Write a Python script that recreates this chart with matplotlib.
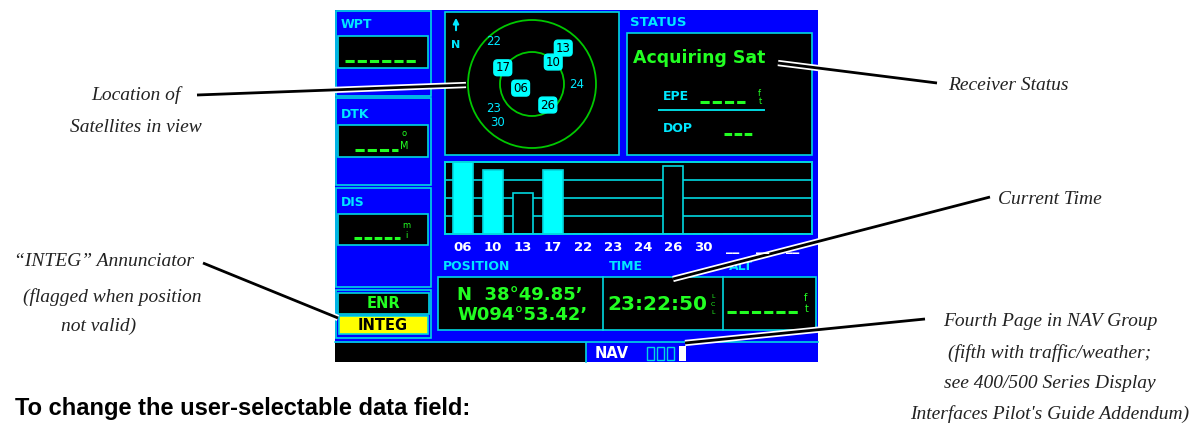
"""GPS satellite status page with callouts, redrawn with matplotlib."""

import numpy as np
import matplotlib
matplotlib.use("Agg")
import matplotlib.pyplot as plt
from matplotlib.patches import Rectangle, Circle
import matplotlib.patheffects as pe

# Satellites in view: id, azimuth (deg), elevation (deg), boxed on sky plot
sat_ids = ["22", "13", "10", "17", "06", "24", "23", "30", "26"]
sat_azimuth = [318, 41, 44, 299, 250, 91, 238, 222, 143]
sat_elevation = [10, 23, 47, 43, 73, 27, 26, 18, 53]
sat_boxed = [False, True, True, True, True, False, False, False, True]

# Signal strength bars
bar_labels = ["06", "10", "13", "17", "22", "23", "24", "26", "30", "__", "__", "__"]
bar_strength = [1.0, 0.89, 0.57, 0.89, 0, 0, 0, 0.94, 0, 0, 0, 0]
bar_filled = [True, True, False, True, False, False, False, False, False, False, False, False]

position_lines = ["N  38°49.85’", "W094°53.42’"]
time_text = "23:22:50"
status_text = "Acquiring Sat"

BLUE = "#0000FF"
CYAN = "#00D8E0"
CYAN_TXT = "#00E8FF"
GREEN = "#22FF22"
GRID_GREEN = "#00C800"
W, H = 1191, 429

fig = plt.figure(figsize=(W / 100, H / 100), dpi=100)
ax = fig.add_axes([0, 0, 1, 1])
ax.set_xlim(0, W)
ax.set_ylim(H, 0)
ax.axis("off")


def rect(x0, y0, x1, y1, fc, ec="none", lw=1.2, z=1):
    ax.add_patch(Rectangle((x0, y0), x1 - x0, y1 - y0, facecolor=fc,
                           edgecolor=ec, linewidth=lw, zorder=z))


def label(x, y, s, color=CYAN_TXT, size=9, weight="bold", ha="left", **kw):
    ax.text(x, y, s, color=color, fontsize=size, fontweight=weight, ha=ha,
            va="center", family="DejaVu Sans", zorder=5, **kw)


def dashes(x0, x1, y, n=(3, 1)):
    ax.plot([x0, x1], [y, y], color=GREEN, lw=2.2, linestyle=(0, n),
            solid_capstyle="butt", zorder=5)


# screen background
rect(335, 10, 818, 362, BLUE)

# left column
rect(336, 11, 431, 96, BLUE, CYAN)
rect(336, 98, 431, 185, BLUE, CYAN)
rect(336, 188, 431, 287, BLUE, CYAN)
rect(336, 290, 431, 338, BLUE, CYAN)
label(341, 25, "WPT")
rect(338, 36, 428, 68, "black", CYAN)
dashes(345, 418, 61)
label(341, 115, "DTK")
rect(338, 125, 428, 157, "black", CYAN)
dashes(355, 398, 150)
label(404, 133, "o", color=GREEN, size=6, weight="normal", ha="center")
label(404, 146, "M", color=GREEN, size=7, weight="normal", ha="center")
label(341, 203, "DIS")
rect(338, 214, 428, 245, "black", CYAN)
dashes(354, 400, 238, n=(2.5, 0.8))
label(406, 226, "m", color=GREEN, size=6, weight="normal", ha="center")
label(406, 236, "i", color=GREEN, size=6, weight="normal", ha="center")
rect(338, 293, 429, 314, "black", CYAN)
label(383, 304, "ENR", color=GREEN, size=10.5, ha="center")
rect(339, 316, 428, 334, "#FFFF00", CYAN)
label(383, 326, "INTEG", color="black", size=10.5, ha="center")

# sky plot
rect(445, 12, 619, 155, "black", CYAN)
cx, cy, r_out = 532, 84, 64
ax.add_patch(Circle((cx, cy), r_out, fill=False, ec=GRID_GREEN, lw=1.3, zorder=2))
ax.add_patch(Circle((cx, cy), r_out / 2, fill=False, ec=GRID_GREEN, lw=1.3, zorder=2))
ax.annotate("", xy=(456, 15), xytext=(456, 33),
            arrowprops=dict(arrowstyle="-|>", color=CYAN_TXT, lw=1.5,
                            mutation_scale=8), zorder=5)
label(456, 45, "N", size=8, ha="center")
for sid, az, el, boxed in zip(sat_ids, sat_azimuth, sat_elevation, sat_boxed):
    rr = (90 - el) / 90 * r_out
    sx = cx + rr * np.sin(np.radians(az))
    sy = cy - rr * np.cos(np.radians(az))
    if boxed:
        ax.text(sx, sy, sid, color="black", fontsize=8.5, ha="center", va="center",
                family="DejaVu Sans", zorder=6,
                bbox=dict(boxstyle="round,pad=0.12,rounding_size=0.3",
                          fc="#00FFFF", ec="#00FFFF"))
    else:
        ax.text(sx, sy, sid, color=CYAN_TXT, fontsize=8.5, ha="center",
                va="center", family="DejaVu Sans", zorder=6)

# status box
label(630, 22, "STATUS", size=9.5)
rect(627, 33, 812, 155, "black", CYAN)
label(633, 58, status_text, color=GREEN, size=12.5)
label(663, 97, "EPE", size=9)
dashes(700, 745, 102)
label(759, 93, "f", color=GREEN, size=6, weight="normal", ha="center")
label(760, 101, "t", color=GREEN, size=6, weight="normal", ha="center")
ax.plot([659, 764], [110, 110], color=CYAN, lw=1.4, zorder=5)
label(663, 128, "DOP", size=9)
dashes(724, 753, 134, n=(2.5, 0.8))

# signal strength bars
bx = fig.add_axes([445 / W, 1 - 234 / H, 367 / W, 72 / H])
bx.set_facecolor("black")
pos = np.arange(len(bar_labels))
fills = ["#00FFFF" if f else "black" for f in bar_filled]
for y in (0.25, 0.5, 0.75):
    bx.axhline(y, color=CYAN, lw=1.2, zorder=1)
bx.bar(pos, bar_strength, width=0.65, color=fills, edgecolor=CYAN, linewidth=1.2, zorder=2)
bx.set_xlim(-0.6, 367 / 30 - 0.6)
bx.set_ylim(0, 1.0)
bx.set_yticks([])
bx.set_xticks(pos)
bx.set_xticklabels(bar_labels, color="white", fontsize=9.5, fontweight="bold",
                   family="DejaVu Sans")
bx.tick_params(axis="x", length=0, pad=5)
for sp in bx.spines.values():
    sp.set_color(CYAN)
    sp.set_linewidth(1.4)

# position / time / altitude
label(443, 267, "POSITION", size=9)
label(609, 267, "TIME", size=9)
label(729, 267, "ALT", size=9)
rect(438, 277, 816, 330, "black", CYAN)
ax.plot([603, 603], [277, 330], color=CYAN, lw=1.2, zorder=3)
ax.plot([723, 723], [277, 330], color=CYAN, lw=1.2, zorder=3)
label(457, 295, position_lines[0], color=GREEN, size=13)
label(457, 315, position_lines[1], color=GREEN, size=13)
label(607, 305, time_text, color=GREEN, size=14.5)
for yy, ch in zip((297, 305, 313), "LCL"):
    label(713, yy, ch, color=GREEN, size=4.5, weight="normal", ha="center")
dashes(727, 800, 312)
label(806, 298, "f", color=GREEN, size=7, weight="normal", ha="center")
label(807, 309, "t", color=GREEN, size=7, weight="normal", ha="center")

# bottom page bar
ax.plot([335, 818], [342, 342], color=CYAN, lw=1.2, zorder=3)
rect(335, 343, 586, 362, "black")
ax.plot([586, 586], [343, 362], color=CYAN, lw=1.2, zorder=3)
label(595, 353, "NAV", color="white", size=10.5)
for k in range(3):
    rect(647 + k * 10, 347, 654 + k * 10, 360, "none", CYAN, lw=1.0, z=5)
rect(679, 346, 686, 361, "white", z=5)

# callouts
halo = [pe.Stroke(linewidth=4.5, foreground="white"), pe.Normal()]
leaders = [((197, 95), (466, 85)), ((778, 63), (937, 83)), ((990, 197), (673, 279)),
           ((203, 263), (338, 318)), ((925, 319), (685, 343))]
for (x0, y0), (x1, y1) in leaders:
    ax.plot([x0, x1], [y0, y1], color="black", lw=2.0, zorder=8,
            solid_capstyle="butt", path_effects=halo)

serif = dict(family="Liberation Serif", style="italic", fontsize=14,
             color="#222222", va="center", zorder=9)
ax.text(136, 95, "Location of", ha="center", **serif)
ax.text(136, 128, "Satellites in view", ha="center", **serif)
ax.text(948, 85, "Receiver Status", ha="left", **serif)
ax.text(998, 200, "Current Time", ha="left", **serif)
ax.text(104, 262, "“INTEG” Annunciator", ha="center", **serif)
ax.text(112, 297, "(flagged when position", ha="center", **serif)
ax.text(99, 326, "not valid)", ha="center", **serif)
ax.text(1050, 322, "Fourth Page in NAV Group", ha="center", **serif)
ax.text(1050, 353, "(fifth with traffic/weather;", ha="center", **serif)
ax.text(1050, 384, "see 400/500 Series Display", ha="center", **serif)
ax.text(1050, 414, "Interfaces Pilot's Guide Addendum)", ha="center", **serif)

ax.text(15, 409, "To change the user-selectable data field:", ha="left", va="center",
        fontsize=17, fontweight="bold", family="Liberation Sans",
        color="black")

fig.savefig("out.png", dpi=100)
